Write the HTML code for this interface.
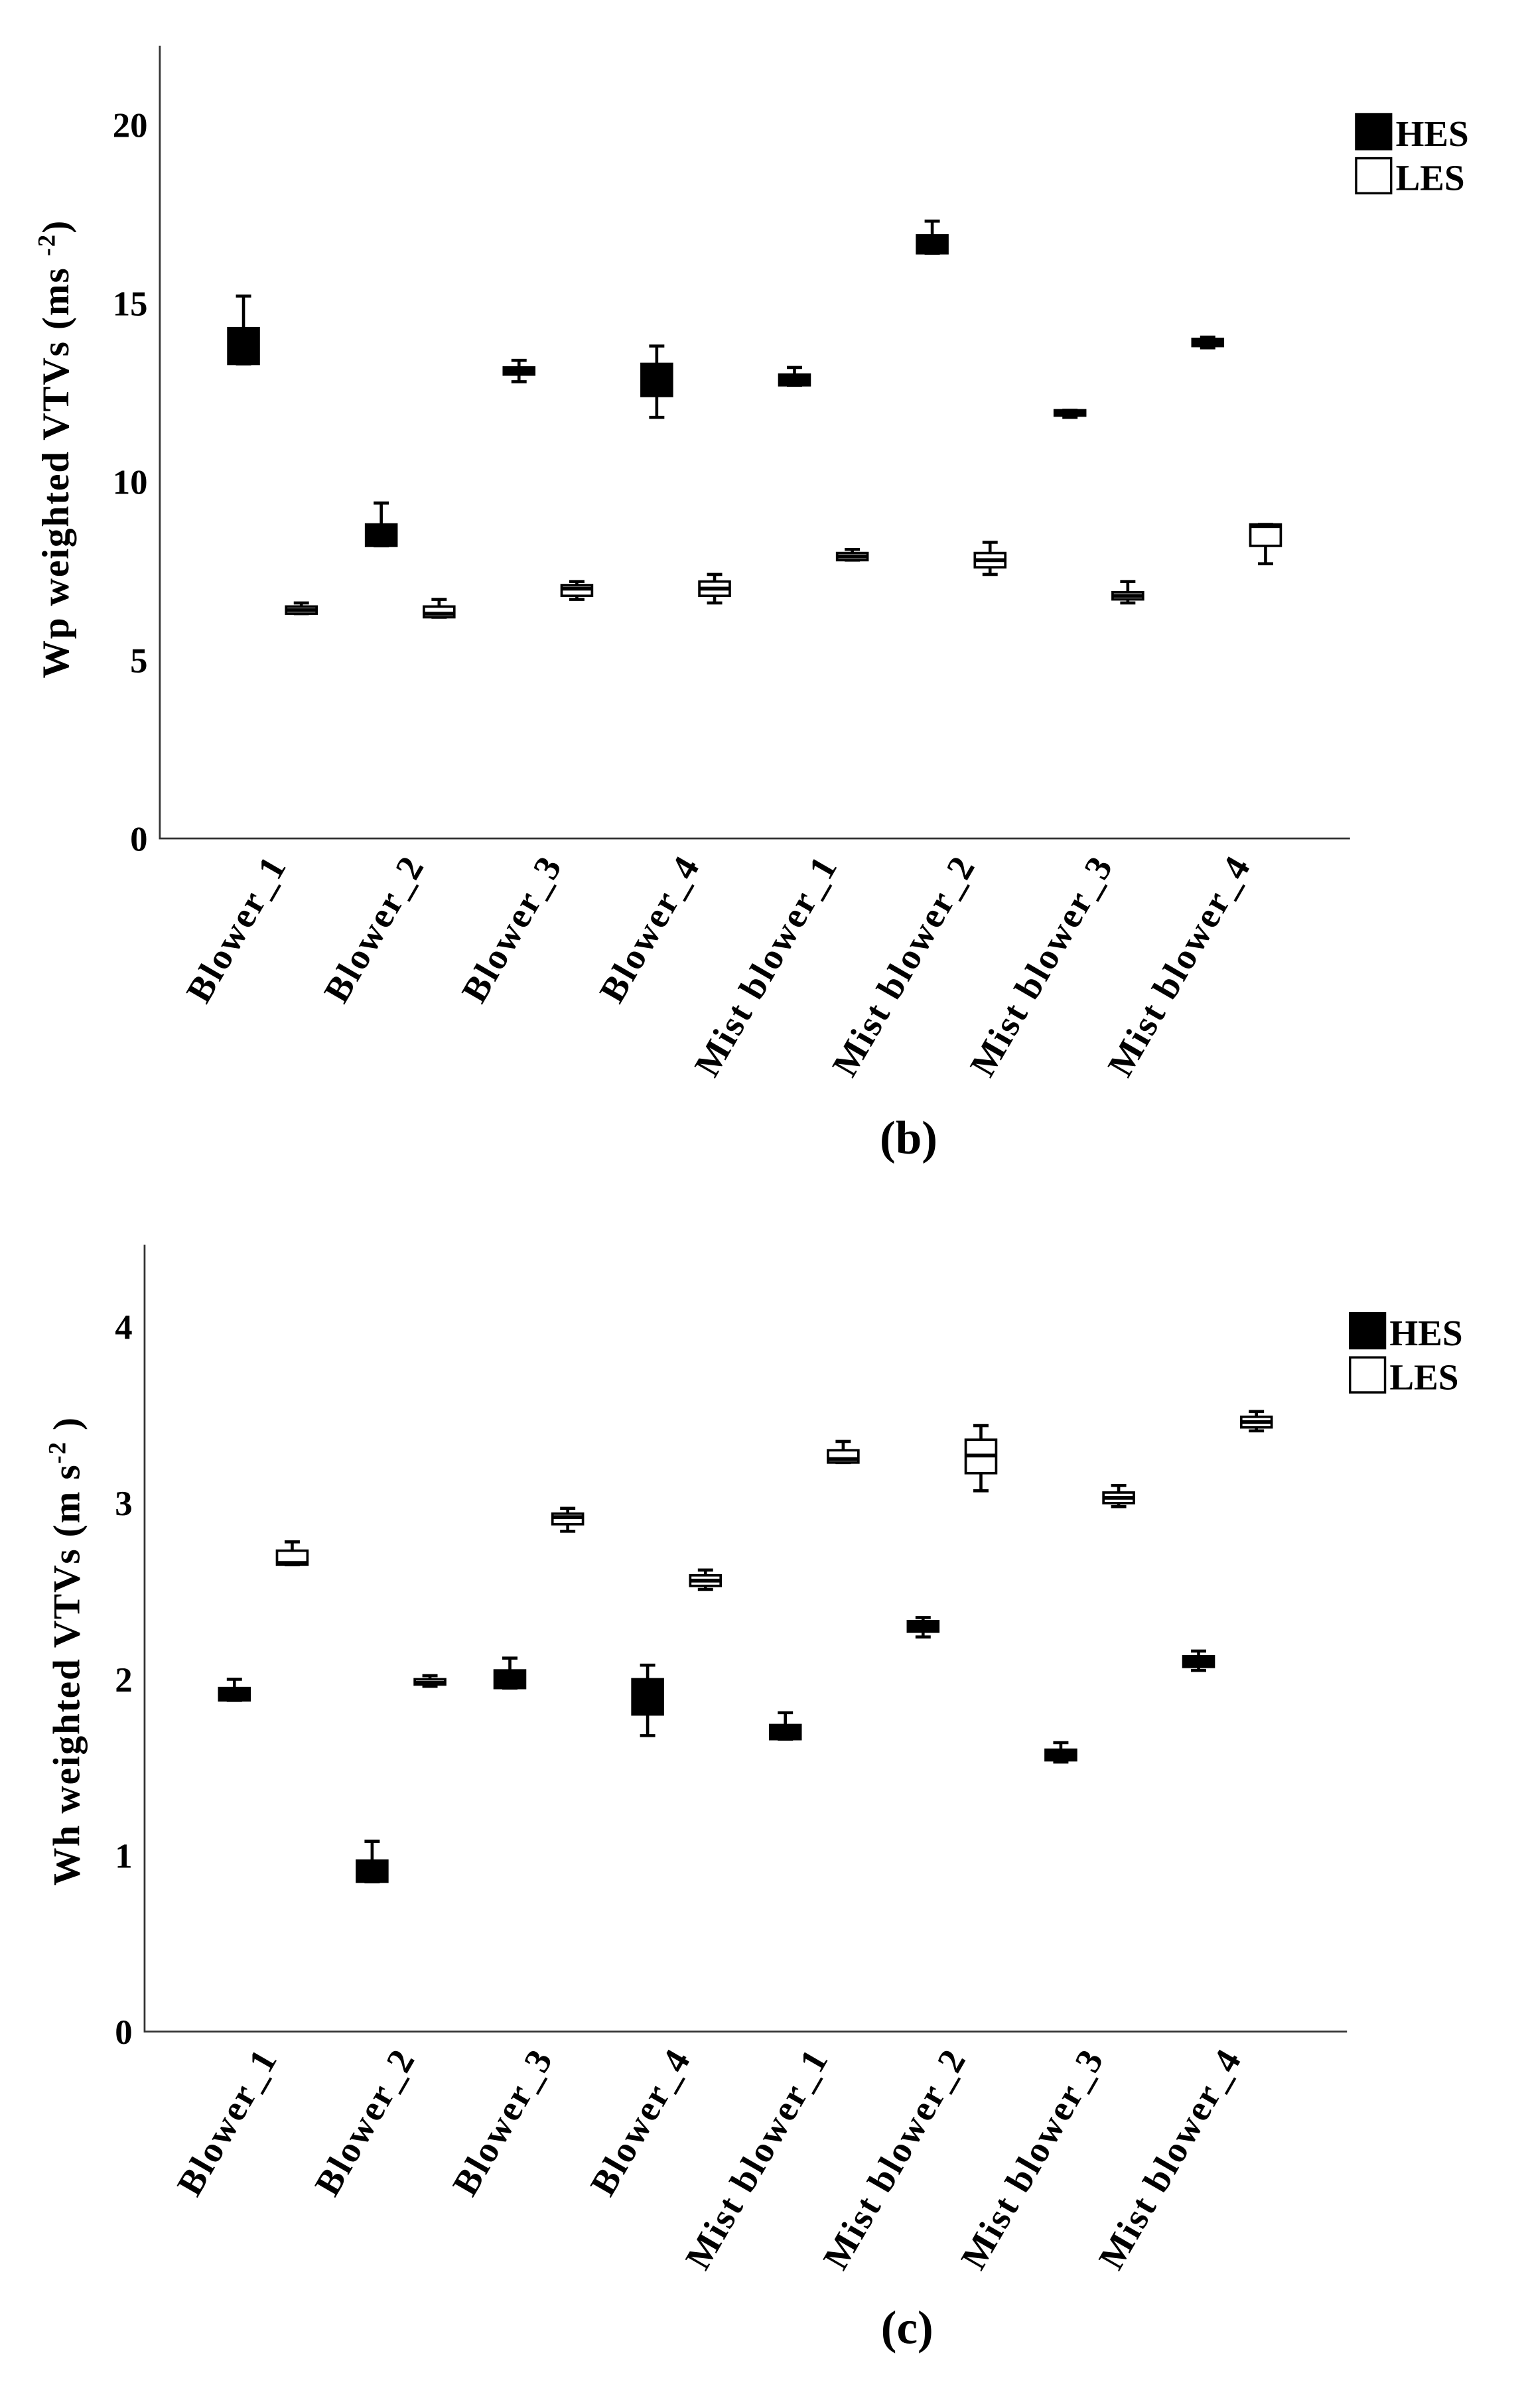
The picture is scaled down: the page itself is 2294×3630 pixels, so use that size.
<!DOCTYPE html>
<html><head><meta charset="utf-8"><style>
html,body{margin:0;padding:0;background:#fff}
svg{display:block}
text{font-family:"Liberation Serif",serif;font-weight:bold;fill:#000}
</style></head><body>
<svg id="fig" width="2294" height="3630" viewBox="0 0 1000 1582.4" preserveAspectRatio="none" xmlns="http://www.w3.org/2000/svg"></svg>
<script>
const categories = ["Blower_1","Blower_2","Blower_3","Blower_4","Mist blower_1","Mist blower_2","Mist blower_3","Mist blower_4"];
// chart b: [whiskerLow, q1, median, q3, whiskerHigh]
const wpHES = [[13.3,13.3,13.5,14.3,15.2],[8.2,8.2,8.4,8.8,9.4],[12.8,13.0,13.1,13.2,13.4],[11.8,12.4,12.8,13.3,13.8],[12.7,12.7,12.85,13.0,13.2],[16.4,16.4,16.5,16.9,17.3],[11.8,11.85,11.9,12.0,12.0],[13.75,13.8,13.9,14.0,14.05]];
const wpLES = [[6.3,6.3,6.4,6.5,6.6],[6.2,6.2,6.3,6.5,6.7],[6.7,6.8,7.0,7.1,7.2],[6.6,6.8,7.0,7.2,7.4],[7.8,7.8,7.9,8.0,8.1],[7.4,7.6,7.8,8.0,8.3],[6.6,6.7,6.8,6.9,7.2],[7.7,8.2,8.75,8.8,8.8]];
const wpTicks = [0,5,10,15,20];
// chart c
const whHES = [[1.88,1.88,1.92,1.95,2.0],[0.85,0.85,0.9,0.97,1.08],[1.95,1.95,2.0,2.05,2.12],[1.68,1.8,1.9,2.0,2.08],[1.66,1.66,1.7,1.74,1.81],[2.24,2.27,2.3,2.33,2.35],[1.53,1.54,1.57,1.6,1.64],[2.05,2.07,2.1,2.13,2.16]];
const whLES = [[2.65,2.65,2.66,2.73,2.78],[1.96,1.97,1.98,2.0,2.02],[2.84,2.88,2.92,2.94,2.97],[2.51,2.53,2.56,2.59,2.62],[3.23,3.23,3.25,3.3,3.35],[3.07,3.17,3.27,3.36,3.44],[2.98,3.0,3.03,3.06,3.1],[3.41,3.43,3.46,3.49,3.52]];
const whTicks = [0,1,2,3,4];

const NS="http://www.w3.org/2000/svg";
const svg=document.getElementById('fig');
function el(tag,attrs,parent){const e=document.createElementNS(NS,tag);for(const k in attrs)e.setAttribute(k,attrs[k]);(parent||svg).appendChild(e);return e;}

function chart(cfg){
  const g=el('g',{});
  
  
  const y=v=>cfg.y0-(v/cfg.vmax)*(cfg.y0-cfg.yTop);
  const cx=i=>cfg.c0+cfg.step*i;
  const ax=el('path',{d:`M${cfg.ax},${cfg.axTop}V${cfg.y0}H${cfg.axRight}`,stroke:'#333',fill:'none','stroke-width':1.2},g);
  
  
  cfg.ticks.forEach(t=>{
    const tx=el('text',{x:cfg.ax-8,y:y(t)+8,'text-anchor':'end','font-size':23},g);
    tx.textContent=t;
    
    
  });
  const yt=el('text',{transform:`translate(${cfg.ytX},${cfg.ytY}) rotate(-90)`,'text-anchor':'middle','font-size':25,'letter-spacing':'0.8'},g);
  yt.innerHTML=cfg.ytitle;
  
  
  categories.forEach((c,i)=>{
    const lx=cx(i)+10, ly=cfg.y0+17;
    const t=el('text',{transform:`translate(${lx},${ly}) rotate(-60)`,'text-anchor':'end','font-size':24,'letter-spacing':'1.2'},g);
    t.textContent=c;
    
    
  });
  function box(d,x,fill,name){
    const bg=el('g',{},g);
    
    
    const w=20;
    el('path',{d:`M${x},${y(d[4])}V${y(d[3])}M${x},${y(d[1])}V${y(d[0])}M${x-5},${y(d[4])}H${x+5}M${x-5},${y(d[0])}H${x+5}`,stroke:'#000','stroke-width':2,fill:'none'},bg);
    el('rect',{x:x-w/2,y:y(d[3]),width:w,height:Math.max(y(d[1])-y(d[3]),1),fill:fill,stroke:'#000','stroke-width':1.6},bg);
    el('line',{x1:x-w/2,x2:x+w/2,y1:y(d[2]),y2:y(d[2]),stroke:'#000','stroke-width':2.5},bg);
  }
  cfg.hes.forEach((d,i)=>box(d,cx(i)-19,'#000','box-hes-'+(i+1)));
  cfg.les.forEach((d,i)=>box(d,cx(i)+19,'#fff','box-les-'+(i+1)));
  const lg=el('g',{},g);
  
  
  [['HES','#000'],['LES','#fff']].forEach((e,k)=>{
    const yy=cfg.legY+k*29;
    el('rect',{x:cfg.legX,y:yy,width:23,height:23,fill:e[1],stroke:'#000','stroke-width':1.5},lg);
    const t=el('text',{x:cfg.legX+26,y:yy+21,'font-size':24},lg);
    t.textContent=e[0];
    
    
  });
  const cap=el('text',{x:cfg.capX,y:cfg.capY,'text-anchor':'middle','font-size':31,'font-weight':'normal'},g);
  cap.innerHTML='(<tspan font-weight="bold">'+cfg.cap+'</tspan>)';
  
  
}
chart({name:'chart-b-wp',ax:105,axTop:30,axRight:887,y0:551,yTop:82,vmax:20,ticks:wpTicks,c0:179,step:90.5,hes:wpHES,les:wpLES,
  ytX:45,ytY:295,ytitle:'Wp weighted VTVs (ms <tspan font-size="16" dy="-9">-2</tspan><tspan dy="9">)</tspan>',legX:891,legY:75,capX:597,capY:758,cap:'b'});
chart({name:'chart-c-wh',ax:95,axTop:818,axRight:885,y0:1335,yTop:872,vmax:4,ticks:whTicks,c0:173,step:90.5,hes:whHES,les:whLES,
  ytX:52,ytY:1085,ytitle:'Wh weighted VTVs (m s<tspan font-size="16" dy="-9">-2</tspan><tspan dy="9"> )</tspan>',legX:887,legY:863,capX:596,capY:1540,cap:'c'});
</script>
</body></html>
